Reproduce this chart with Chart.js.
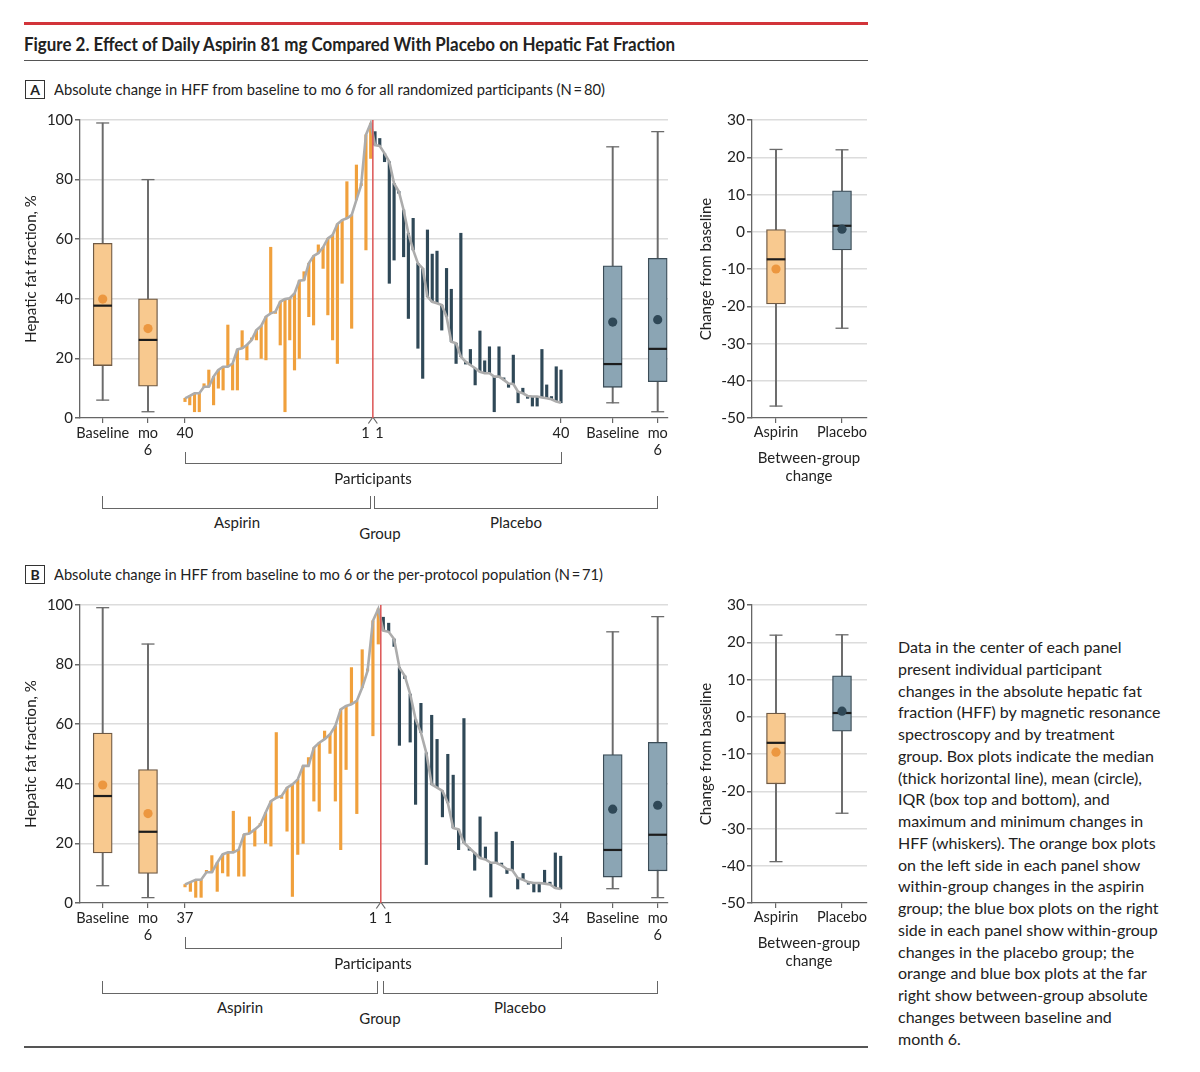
<!DOCTYPE html>
<html>
<head>
<meta charset="utf-8">
<script src="https://cdn.jsdelivr.net/npm/chart.js@4.4.1/dist/chart.umd.min.js"></script>
<style>
  body { margin: 0; background: #fff; width: 1200px; height: 1072px; position: relative; overflow: hidden;
         font-family: Lato, "Open Sans", sans-serif; color: #222; }
  .abs { position: absolute; white-space: nowrap; }
  .t { position: absolute; white-space: nowrap; line-height: 1; transform: translate(-50%, -50%); font-size: 15px; }
  .br { position: absolute; border: 1.2px solid #666; border-top: none; box-sizing: border-box; }
  .rule { position: absolute; left: 24px; width: 844px; }
  .tag { position: absolute; left: 25px; width: 20px; height: 19px; border: 1.2px solid #333; box-sizing: border-box;
         font-weight: bold; font-size: 14px; text-align: center; line-height: 17px; }
  .head { position: absolute; left: 54px; font-size: 16px; line-height: 1; white-space: nowrap; transform-origin: left center; }
  canvas { position: absolute; }
  #note { position: absolute; left: 898px; top: 636px; font-size: 16px; line-height: 21.75px; color: #222; }
</style>
</head>
<body>
<div class="rule" style="top:22px;height:3px;background:#d2343a"></div>
<div class="abs" id="title" data-w="651" style="left:24px;top:32px;font-size:19px;font-weight:bold;transform-origin:left center">Figure 2. Effect of Daily Aspirin 81 mg Compared With Placebo on Hepatic Fat Fraction</div>
<div class="rule" style="top:59.5px;height:1.5px;background:#555"></div>

<div class="tag" style="top:80px">A</div>
<div class="head" data-w="551" style="top:81px">Absolute change in HFF from baseline to mo 6 for all randomized participants (N&#8201;=&#8201;80)</div>
<div class="tag" style="top:565px">B</div>
<div class="head" data-w="549" style="top:566px">Absolute change in HFF from baseline to mo 6 or the per-protocol population (N&#8201;=&#8201;71)</div>

<canvas id="mainA" width="680" height="360" style="left:0;top:100px"></canvas>
<canvas id="diffA" width="190" height="360" style="left:690px;top:100px"></canvas>
<canvas id="mainB" width="680" height="360" style="left:0;top:585px"></canvas>
<canvas id="diffB" width="190" height="360" style="left:690px;top:585px"></canvas>

<!-- panel A brackets -->
<div class="br" style="left:185px;top:452px;width:377px;height:12px"></div>
<div class="t" style="left:373px;top:478px">Participants</div>
<div class="br" style="left:102px;top:496px;width:269px;height:13px"></div>
<div class="br" style="left:374px;top:496px;width:284px;height:13px"></div>
<div class="t" style="left:237px;top:522px">Aspirin</div>
<div class="t" style="left:516px;top:522px">Placebo</div>
<div class="t" style="left:380px;top:533px">Group</div>
<div class="t" style="left:809px;top:457px">Between-group</div>
<div class="t" style="left:809px;top:475px">change</div>

<!-- panel B brackets -->
<div class="br" style="left:185px;top:937px;width:377px;height:12px"></div>
<div class="t" style="left:373px;top:963px">Participants</div>
<div class="br" style="left:102px;top:981px;width:276px;height:13px"></div>
<div class="br" style="left:383px;top:981px;width:275px;height:13px"></div>
<div class="t" style="left:240px;top:1007px">Aspirin</div>
<div class="t" style="left:520px;top:1007px">Placebo</div>
<div class="t" style="left:380px;top:1018px">Group</div>
<div class="t" style="left:809px;top:942px">Between-group</div>
<div class="t" style="left:809px;top:960px">change</div>

<div class="rule" style="top:1046px;height:1.5px;background:#555"></div>

<div id="note">Data in the center of each panel<br>present individual participant<br>changes in the absolute hepatic fat<br>fraction (HFF) by magnetic resonance<br>spectroscopy and by treatment<br>group. Box plots indicate the median<br>(thick horizontal line), mean (circle),<br>IQR (box top and bottom), and<br>maximum and minimum changes in<br>HFF (whiskers). The orange box plots<br>on the left side in each panel show<br>within-group changes in the aspirin<br>group; the blue box plots on the right<br>side in each panel show within-group<br>changes in the placebo group; the<br>orange and blue box plots at the far<br>right show between-group absolute<br>changes between baseline and<br>month 6.</div>

<script>
// ---- Panel A data (participants left to right: aspirin 40 -> 1, placebo 1 -> 40) ----
const aspBaseA = [6.6, 7.4, 8.3, 8.3, 10.5, 10.5, 13.9, 16.1, 17.2, 17.2, 18.3, 23.0, 23.4, 24.5, 26.2, 29.5, 30.9, 34.0, 35.1, 35.7,
                  39.0, 39.9, 40.2, 41.8, 46.1, 46.3, 51.9, 54.4, 55.3, 57.3, 60.3, 61.4, 65.1, 66.4, 67.0, 68.1, 73.2, 78.2, 95.0, 98.9];
const aspMo6A  = [5.5, 4.4, 2.1, 2.1, 11.5, 16.1, 4.4, 10.0, 9.4, 31.2, 9.4, 9.4, 29.3, 19.5, 26.4, 26.2, 20.0, 19.5, 57.3, 35.1,
                  24.5, 2.1, 26.2, 16.1, 20.0, 49.1, 34.0, 31.2, 58.1, 50.2, 34.6, 26.2, 18.3, 45.2, 79.3, 30.1, 84.9, 78.0, 56.4, 87.1];
const plcBaseA = [91.6, 91.3, 88.8, 86.0, 78.7, 76.0, 69.8, 62.0, 56.4, 51.9, 50.2, 40.7, 39.0, 38.5, 37.9, 34.0, 25.6, 25.1, 20.6, 18.9,
                  17.8, 16.7, 15.5, 15.0, 15.0, 13.9, 13.9, 12.8, 11.6, 11.4, 8.8, 8.3, 7.4, 7.2, 7.2, 6.9, 6.6, 6.3, 5.5, 5.1];
const plcMo6A  = [96.1, 93.8, 86.0, 45.2, 53.0, 75.4, 54.1, 33.4, 67.0, 23.4, 13.3, 63.1, 55.0, 56.0, 29.5, 50.2, 43.2, 18.3, 62.0, 18.1,
                  23.0, 11.1, 29.2, 19.2, 23.9, 2.1, 23.9, 13.2, 10.3, 21.1, 5.1, 10.0, 6.6, 4.0, 4.0, 23.0, 11.1, 7.2, 17.2, 16.1];

// box stats: min, q1, median, q3, max, mean
const aspBoxBaseA = [6.0, 17.6, 37.7, 58.6, 99.0, 39.9];
const aspBoxMo6A  = [2.1, 10.7, 26.2, 40.0, 80.0, 30.0];
const plcBoxBaseA = [5.1, 10.3, 18.1, 51.1, 91.0, 32.2];
const plcBoxMo6A  = [2.1, 12.2, 23.2, 53.6, 96.1, 33.0];
const aspChangeA  = [-46.8, -19.4, -7.4, 0.6, 22.1, -10.0];
const plcChangeA  = [-25.9, -4.9, 1.6, 11.0, 22.0, 0.7];

// ---- Panel B data (aspirin 37 -> 1, placebo 1 -> 34) ----
const aspBaseB = [6.2, 7.0, 7.8, 7.8, 10.3, 10.3, 13.5, 16.3, 17.0, 17.0, 17.9, 23.0, 23.3, 24.7, 26.2, 30.3, 34.2, 35.3, 35.9,
                  38.7, 39.8, 41.5, 46.0, 46.0, 52.1, 53.8, 55.0, 56.6, 59.4, 65.0, 66.1, 66.7, 67.8, 72.3, 77.9, 94.7, 98.7];
const aspMo6B  = [5.4, 3.9, 1.9, 1.9, 10.8, 15.9, 3.9, 10.1, 9.0, 30.8, 9.0, 9.0, 28.9, 19.1, 26.0, 20.0, 19.1, 57.2, 35.1,
                  24.1, 2.2, 16.3, 20.0, 48.8, 34.2, 30.8, 57.7, 50.2, 34.2, 17.9, 44.8, 79.0, 30.0, 85.0, 78.0, 56.1, 86.9];
const plcBaseB = [91.4, 91.0, 88.6, 79.0, 76.2, 70.1, 61.7, 57.2, 50.4, 39.8, 38.7, 37.6, 33.6, 25.2, 24.7, 20.2, 18.5,
                  16.8, 15.1, 14.6, 13.5, 13.5, 12.6, 11.4, 11.0, 8.4, 7.8, 7.0, 6.7, 6.7, 6.5, 6.2, 5.0, 4.7];
const plcMo6B  = [95.9, 93.9, 86.1, 52.9, 75.3, 54.0, 33.1, 67.0, 12.9, 63.0, 54.9, 28.9, 49.9, 42.9, 17.9, 61.9, 17.7,
                  11.0, 28.9, 18.8, 2.0, 23.8, 13.4, 9.9, 20.7, 4.7, 9.9, 6.3, 3.7, 3.7, 11.0, 7.0, 16.8, 15.7];

const aspBoxBaseB = [5.8, 16.8, 35.9, 57.0, 99.1, 39.6];
const aspBoxMo6B  = [1.8, 9.9, 23.9, 44.8, 86.9, 30.0];
const plcBoxBaseB = [4.8, 8.7, 17.8, 49.8, 91.0, 31.5];
const plcBoxMo6B  = [1.8, 10.8, 22.9, 53.9, 96.1, 32.8];
const aspChangeB  = [-38.9, -18.0, -7.0, 1.0, 21.9, -9.5];
const plcChangeB  = [-25.9, -3.9, 1.0, 11.0, 22.0, 1.5];

// tick labels
const mainTicksA = ['Baseline', ['mo', '6'], '40', '1', '1', '40', 'Baseline', ['mo', '6']];
const mainTicksB = ['Baseline', ['mo', '6'], '37', '1', '1', '34', 'Baseline', ['mo', '6']];
const diffTicks = ['Aspirin', 'Placebo'];

// colours
const ORANGE = '#f0a03c';
const SLATE = '#2f4857';
const BOX = {
  asp: { fill: '#f8c98f', edge: '#6f5a45', mean: '#ec9740' },
  plc: { fill: '#8ba5b4', edge: '#3b4c57', mean: '#2f4857' }
};

Chart.defaults.font.family = 'Lato, "Open Sans", sans-serif';
Chart.defaults.color = '#222';

// squeeze the long header lines to the width they take in the figure
document.querySelectorAll('[data-w]').forEach(el => {
  const w = el.getBoundingClientRect().width;
  el.style.transform = `scaleX(${el.dataset.w / w})`;
});

// x positions in pixels from the left of the plot area
function spread(n, first, last) {
  const step = (last - first) / (n - 1);
  return Array.from({ length: n }, (_, i) => first + i * step);
}

function boxSets(x, s, kind) {
  const c = BOX[kind];
  const [mn, q1, md, q3, mx, mean] = s;
  return [
    { type: 'bar', data: [{ x, y: [mn, mx] }], backgroundColor: '#6b6b6b', barThickness: 1.3, grouped: false, order: 6 },
    { type: 'bar', data: [{ x, y: [q1, q3] }], backgroundColor: c.fill, borderColor: c.edge, borderWidth: 1.3,
      borderSkipped: false, barThickness: 19, grouped: false, order: 5 },
    { type: 'scatter', data: [{ x, y: mn }, { x, y: mx }], pointStyle: 'line', pointRadius: 6.5,
      borderColor: '#6b6b6b', borderWidth: 1.3, order: 4 },
    { type: 'scatter', data: [{ x, y: md }], pointStyle: 'line', pointRadius: 9.3, borderColor: '#1c1c1c', borderWidth: 2.2, order: 3 },
    { type: 'scatter', data: [{ x, y: mean }], pointStyle: 'circle', pointRadius: 4.6, backgroundColor: c.mean,
      borderWidth: 0, order: 2 }
  ];
}

// small bent tick marks from the divider to the two "1" labels
const tentPlugin = {
  id: 'tent',
  afterDraw(chart, args, opts) {
    if (opts.at == null) return;
    const { ctx, scales: { x, y } } = chart;
    const x0 = x.getPixelForValue(opts.at), y0 = y.getPixelForValue(0);
    ctx.save();
    ctx.strokeStyle = '#666';
    ctx.lineWidth = 1.2;
    ctx.beginPath();
    ctx.moveTo(x0 - 0.6, y0); ctx.lineTo(x0 - 4.5, y0 + 5.5);
    ctx.moveTo(x0 + 0.6, y0); ctx.lineTo(x0 + 4.5, y0 + 5.5);
    ctx.stroke();
    ctx.restore();
  }
};

function mainChart(id, d) {
  const aspX = spread(d.aspBase.length, d.L.aspFirst, d.L.aspLast);
  const plcX = spread(d.plcBase.length, d.L.plcFirst, d.L.plcLast);
  const divider = (d.L.aspLast + d.L.plcFirst) / 2;
  const baseline = aspX.map((x, i) => ({ x, y: d.aspBase[i] }))
    .concat(plcX.map((x, i) => ({ x, y: d.plcBase[i] })));
  const tickPos = [d.L.box[0], d.L.box[1], d.L.aspFirst, d.L.one[0], d.L.one[1], d.L.plcLast, d.L.box[2], d.L.box[3]];

  const datasets = [
    { type: 'line', data: [{ x: divider, y: 0 }, { x: divider, y: 100 }], borderColor: '#dc5454', borderWidth: 1.5,
      pointRadius: 0, order: 0 },
    { type: 'line', data: baseline, borderColor: '#acacac', borderWidth: 2.6, pointRadius: 0, tension: 0, order: 1 },
    { type: 'bar', data: aspX.map((x, i) => ({ x, y: [d.aspBase[i], d.aspMo6[i]] })), backgroundColor: ORANGE,
      barThickness: 2.5, minBarLength: 2, grouped: false, order: 8 },
    { type: 'bar', data: plcX.map((x, i) => ({ x, y: [d.plcBase[i], d.plcMo6[i]] })), backgroundColor: SLATE,
      barThickness: 2.5, minBarLength: 2, grouped: false, order: 8 },
    ...boxSets(d.L.box[0], d.boxes[0], 'asp'),
    ...boxSets(d.L.box[1], d.boxes[1], 'asp'),
    ...boxSets(d.L.box[2], d.boxes[2], 'plc'),
    ...boxSets(d.L.box[3], d.boxes[3], 'plc')
  ];

  new Chart(document.getElementById(id), {
    type: 'bar',
    data: { datasets },
    plugins: [tentPlugin],
    options: {
      responsive: false, animation: false, events: [],
      layout: { padding: { left: 0, top: 20, right: 12, bottom: 0 } },
      plugins: { legend: { display: false }, tooltip: { enabled: false }, tent: { at: divider } },
      scales: {
        x: {
          type: 'linear', min: 0, max: 588, offset: false,
          afterFit(s) { s.height = 42; },
          afterBuildTicks(s) { s.ticks = tickPos.map(v => ({ value: v })); },
          ticks: { autoSkip: false, maxRotation: 0, padding: 1, color: '#222', font: { size: 14.5, lineHeight: 1.22 },
                   callback: (v, i) => d.labels[i] },
          grid: { drawOnChartArea: false, offset: false, tickLength: 5, lineWidth: 1.2,
                  tickColor: ctx => (ctx.index === 3 || ctx.index === 4) ? 'rgba(0,0,0,0)' : '#666' },
          border: { display: true, color: '#666', width: 1.3 }
        },
        y: {
          min: 0, max: 100,
          afterFit(s) { s.width = 80; },
          ticks: { stepSize: 20, padding: 2, color: '#222', font: { size: 15 } },
          grid: { color: ctx => ctx.tick && ctx.tick.value === 0 ? 'rgba(0,0,0,0)' : '#dcdcdc', lineWidth: 1.5,
                  tickLength: 5, tickColor: '#666' },
          border: { display: true, color: '#666', width: 1.3 },
          title: { display: true, text: 'Hepatic fat fraction, %', color: '#222', font: { size: 15, lineHeight: 1 },
                   padding: { top: 24, bottom: 0 } }
        }
      }
    }
  });
}

function diffChart(id, asp, plc) {
  const pos = [24, 90];
  new Chart(document.getElementById(id), {
    type: 'bar',
    data: { datasets: [...boxSets(pos[0], asp, 'asp'), ...boxSets(pos[1], plc, 'plc')] },
    options: {
      responsive: false, animation: false, events: [],
      layout: { padding: { left: 0, top: 20, right: 13, bottom: 0 } },
      plugins: { legend: { display: false }, tooltip: { enabled: false } },
      scales: {
        x: {
          type: 'linear', min: 0, max: 115, offset: false,
          afterFit(s) { s.height = 42; },
          afterBuildTicks(s) { s.ticks = pos.map(v => ({ value: v })); },
          ticks: { autoSkip: false, maxRotation: 0, padding: 1, color: '#222', font: { size: 14.5 },
                   callback: (v, i) => diffTicks[i] },
          grid: { drawOnChartArea: false, offset: false, tickLength: 5, lineWidth: 1.2, tickColor: '#666' },
          border: { display: true, color: '#666', width: 1.3 }
        },
        y: {
          min: -50, max: 30,
          afterFit(s) { s.width = 62; },
          ticks: { stepSize: 10, padding: 2, color: '#222', font: { size: 15.5 } },
          grid: { color: ctx => ctx.tick && ctx.tick.value === -50 ? 'rgba(0,0,0,0)' : '#dcdcdc', lineWidth: 1.5,
                  tickLength: 5, tickColor: '#666' },
          border: { display: true, color: '#666', width: 1.3 },
          title: { display: true, text: 'Change from baseline', color: '#222', font: { size: 15, lineHeight: 1 },
                   padding: { top: 8.5, bottom: 0 } }
        }
      }
    }
  });
}

mainChart('mainA', {
  aspBase: aspBaseA, aspMo6: aspMo6A, plcBase: plcBaseA, plcMo6: plcMo6A,
  boxes: [aspBoxBaseA, aspBoxMo6A, plcBoxBaseA, plcBoxMo6A], labels: mainTicksA,
  L: { aspFirst: 105, aspLast: 290.7, plcFirst: 295, plcLast: 481, one: [285.5, 299.5], box: [22.7, 68, 532.7, 577.7] }
});
diffChart('diffA', aspChangeA, plcChangeA);

mainChart('mainB', {
  aspBase: aspBaseB, aspMo6: aspMo6B, plcBase: plcBaseB, plcMo6: plcMo6B,
  boxes: [aspBoxBaseB, aspBoxMo6B, plcBoxBaseB, plcBoxMo6B], labels: mainTicksB,
  L: { aspFirst: 105, aspLast: 298.3, plcFirst: 303.3, plcLast: 480.7, one: [293, 308], box: [22.7, 68, 532.7, 577.7] }
});
diffChart('diffB', aspChangeB, plcChangeB);
</script>
</body>
</html>
